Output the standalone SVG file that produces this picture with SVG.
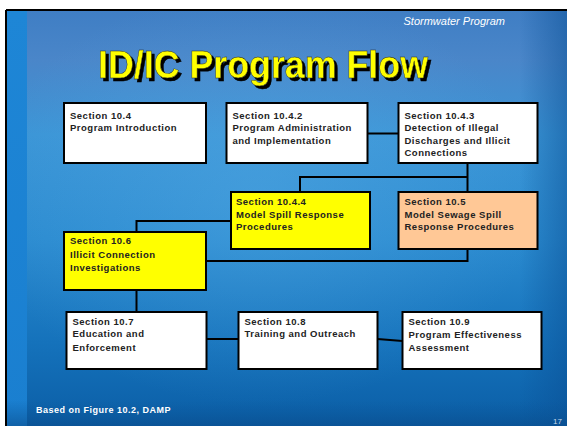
<svg xmlns="http://www.w3.org/2000/svg" width="567" height="426" viewBox="0 0 567 426">
<defs>
<linearGradient id="bg" x1="0" y1="0" x2="0" y2="1">
<stop offset="0" stop-color="#3f7ec4"/>
<stop offset="0.12" stop-color="#4a86c9"/>
<stop offset="0.3" stop-color="#3b95d6"/>
<stop offset="0.55" stop-color="#2b8bd0"/>
<stop offset="0.8" stop-color="#1572bb"/>
<stop offset="1" stop-color="#0b5ea6"/>
</linearGradient>
<linearGradient id="strip" x1="0" y1="0" x2="0" y2="1">
<stop offset="0" stop-color="#1e86d6"/>
<stop offset="1" stop-color="#1a7fd0"/>
</linearGradient>
<linearGradient id="rside" x1="0" y1="0" x2="1" y2="0">
<stop offset="0" stop-color="#0a4f94" stop-opacity="0"/>
<stop offset="1" stop-color="#0a4f94" stop-opacity="0.5"/>
</linearGradient>
<linearGradient id="bot" x1="0" y1="0" x2="0" y2="1">
<stop offset="0" stop-color="#0a5497" stop-opacity="0"/>
<stop offset="1" stop-color="#0a4d8c" stop-opacity="0.6"/>
</linearGradient>
<radialGradient id="glow" cx="0.45" cy="0.45" r="0.5">
<stop offset="0" stop-color="#5fb2ea" stop-opacity="0.35"/>
<stop offset="1" stop-color="#5fb2ea" stop-opacity="0"/>
</radialGradient>
<filter id="sh" x="-5%" y="-20%" width="115%" height="150%">
<feOffset in="SourceAlpha" dx="2.5" dy="2.5" result="o"/>
<feFlood flood-color="#000"/>
<feComposite in2="o" operator="in" result="s"/>
<feMerge><feMergeNode in="s"/><feMergeNode in="SourceGraphic"/></feMerge>
</filter>
</defs>
<style>
.box{stroke:#000;stroke-width:2}
.w{fill:#fff}
.y{fill:#ffff00}
.o{fill:#ffc896}
.t{font-family:"Liberation Sans",Arial,sans-serif;font-weight:bold;font-size:9.5px;letter-spacing:0.5px;fill:#222}
.c{fill:none;stroke:#000;stroke-width:2}
</style>
<rect x="0" y="0" width="567" height="426" fill="#fff"/>
<rect x="6" y="10" width="561" height="416" fill="url(#bg)"/>
<rect x="6" y="10" width="561" height="416" fill="url(#glow)"/>
<rect x="7" y="11" width="20" height="415" fill="url(#strip)"/>
<rect x="520" y="10" width="47" height="416" fill="url(#rside)"/>
<rect x="6" y="400" width="561" height="26" fill="url(#bot)"/>
<path d="M6,10 H567 M6,10 V426" stroke="#000" stroke-width="2" fill="none"/>
<text x="505" y="25" text-anchor="end" font-family="Liberation Sans,Arial,sans-serif" font-style="italic" font-size="11" fill="#fff">Stormwater Program</text>
<g id="title" font-family="Liberation Sans,Arial,sans-serif" font-weight="bold" font-size="38" filter="url(#sh)">
<text x="98" y="78" fill="#ffff00" stroke="#222" stroke-width="0.4" textLength="330" lengthAdjust="spacingAndGlyphs">ID/IC Program Flow</text>
</g>
<g id="connectors">
<path class="c" d="M367.5,133.5 H398.5"/>
<path class="c" d="M467.5,164 V192"/>
<path class="c" d="M299.5,177 H467.5 M300,176 V192"/>
<path class="c" d="M467.5,249 V261 H206"/>
<path class="c" d="M231,221 H136.5 V232"/>
<path class="c" d="M136.5,290 V312"/>
<path class="c" d="M206.5,339 H238.5"/>
<path class="c" d="M377.5,339 L402.5,341"/>
</g>
<g id="n104"><rect class="box w" x="64" y="103" width="142" height="60"/>
<text class="t" x="70" y="119">Section 10.4</text><text class="t" x="70" y="131">Program Introduction</text></g>
<g id="n1042"><rect class="box w" x="226.5" y="103" width="141" height="60"/>
<text class="t" x="232.5" y="119">Section 10.4.2</text><text class="t" x="232.5" y="131">Program Administration</text><text class="t" x="232.5" y="144">and Implementation</text></g>
<g id="n1043"><rect class="box w" x="398.5" y="103" width="139" height="60"/>
<text class="t" x="404.5" y="119">Section 10.4.3</text><text class="t" x="404.5" y="131">Detection of Illegal</text><text class="t" x="404.5" y="144">Discharges and Illicit</text><text class="t" x="404.5" y="156">Connections</text></g>
<g id="n1044"><rect class="box y" x="231" y="192" width="139" height="57"/>
<text class="t" x="236" y="205">Section 10.4.4</text><text class="t" x="236" y="218">Model Spill Response</text><text class="t" x="236" y="230">Procedures</text></g>
<g id="n105"><rect class="box o" x="398.5" y="192" width="139" height="57"/>
<text class="t" x="404.5" y="205">Section 10.5</text><text class="t" x="404.5" y="218">Model Sewage Spill</text><text class="t" x="404.5" y="230">Response Procedures</text></g>
<g id="n106"><rect class="box y" x="64" y="232" width="142" height="58"/>
<text class="t" x="70" y="244">Section 10.6</text><text class="t" x="70" y="258">Illicit Connection</text><text class="t" x="70" y="271">Investigations</text></g>
<g id="n107"><rect class="box w" x="66.5" y="312" width="140" height="57"/>
<text class="t" x="72.5" y="324.5">Section 10.7</text><text class="t" x="72.5" y="336.5">Education and</text><text class="t" x="72.5" y="350.5">Enforcement</text></g>
<g id="n108"><rect class="box w" x="238.5" y="312" width="139" height="57"/>
<text class="t" x="244.5" y="324.5">Section 10.8</text><text class="t" x="244.5" y="336.5">Training and Outreach</text></g>
<g id="n109"><rect class="box w" x="402.5" y="312" width="139" height="57"/>
<text class="t" x="408.5" y="324.5">Section 10.9</text><text class="t" x="408.5" y="338">Program  Effectiveness</text><text class="t" x="408.5" y="350.5">Assessment</text></g>
<text x="36" y="412.5" font-family="Liberation Sans,Arial,sans-serif" font-weight="bold" font-size="9" letter-spacing="0.5" fill="#fff">Based on Figure 10.2, DAMP</text>
<text x="553" y="424" font-family="Liberation Sans,Arial,sans-serif" font-size="8" fill="#c8d8ea">17</text>
</svg>
